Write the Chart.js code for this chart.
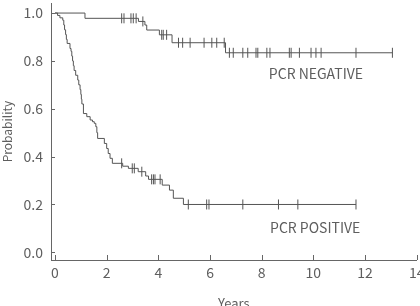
<!DOCTYPE html>
<html>
<head>
<meta charset="utf-8">
<script src="https://cdn.jsdelivr.net/npm/chart.js@4/dist/chart.umd.min.js"></script>
<style>
body { margin: 0; background: #fff; }
#wrap { width: 420px; height: 306px; }
</style>
</head>
<body>
<div id="wrap"><canvas id="km"></canvas></div>
<script>
// Kaplan-Meier curves.
// each time is where the curve steps down to the survival value at the same index
const negTimes = [0, 1.16, 3.23, 3.48, 3.55, 4.04, 4.53, 6.60, 13.06];
const negSurv  = [1.0, 0.978, 0.965, 0.950, 0.929, 0.909, 0.876, 0.834, 0.834];
const negCensored = [2.58, 2.67, 2.94, 3.03, 3.14, 3.40, 4.13, 4.19, 4.32, 4.78, 4.94, 5.23, 5.77,
    6.07, 6.26, 6.55, 6.75, 6.90, 7.27, 7.46, 7.78, 7.85, 8.20, 8.32, 9.07, 9.14, 9.46, 9.91,
    10.10, 10.30, 11.65, 13.06];

const posTimes = [0, 0.10, 0.19, 0.30, 0.34, 0.37, 0.41, 0.44, 0.47, 0.58, 0.62, 0.65, 0.68, 0.71,
    0.74, 0.80, 0.88, 0.92, 0.97, 1.00, 1.02, 1.04, 1.10, 1.23, 1.36, 1.45, 1.52, 1.58, 1.62, 1.65,
    1.91, 2.00, 2.06, 2.13, 2.22, 2.62, 2.84, 3.22, 3.51, 3.62, 4.15, 4.43, 4.58, 4.97, 11.65];
const posSurv = [1.0, 0.99, 0.98, 0.97, 0.95, 0.93, 0.91, 0.89, 0.873, 0.852, 0.84, 0.82, 0.80, 0.78,
    0.76, 0.74, 0.72, 0.70, 0.68, 0.66, 0.64, 0.62, 0.58, 0.567, 0.553, 0.546, 0.539, 0.525, 0.50, 0.476,
    0.455, 0.434, 0.413, 0.393, 0.372, 0.36, 0.351, 0.337, 0.319, 0.305, 0.281, 0.26, 0.226, 0.20, 0.20];
const posCensored = [2.58, 2.99, 3.07, 3.36, 3.74, 3.81, 3.87, 4.07, 5.16, 5.87, 5.96, 7.27, 8.65, 9.40, 11.65];

const xTicks = [0, 2, 4, 6, 8, 10, 12, 14];
const xTickLabels = ['0', '2', '4', '6', '8', '10', '12', '14'];
const yTicks = [0, 0.2, 0.4, 0.6, 0.8, 1.0];
const yTickLabels = ['0.0', '0.2', '0.4', '0.6', '0.8', '1.0'];

const groupNames = ['PCR NEGATIVE', 'PCR POSITIVE'];

const FONT = '"Noto Sans CJK JP", "Noto Sans", sans-serif';
const INK = '#555';
const TXT = '#5e5e5e';

// survival level of a curve at time t (for placing the censor marks on it)
function levelAt(times, surv, t) {
    let s = surv[0];
    for (let i = 0; i < times.length; i++) {
        if (times[i] <= t) s = surv[i];
    }
    return s;
}

function curve(times, surv) {
    return times.map((t, i) => ({x: t, y: surv[i]}));
}

function marks(times, surv, cens) {
    return cens.map(t => ({x: t, y: levelAt(times, surv, t)}));
}

// 'before' in chart.js = go across first, then drop (KM style)
const lineStyle = {
    borderColor: INK,
    borderWidth: 1,
    pointRadius: 0,
    stepped: 'before',
    fill: false
};
const markStyle = {
    showLine: false,
    pointStyle: 'line',
    rotation: 90,
    pointRadius: 5,
    pointBorderWidth: 1,
    pointBorderColor: INK,
    borderColor: INK
};

// inward tick marks, x tick labels (last one hangs off the edge) + the two group labels
const extras = {
    id: 'extras',
    afterDraw(chart) {
        const ctx = chart.ctx;
        const xs = chart.scales.x, ys = chart.scales.y;
        ctx.save();
        ctx.strokeStyle = '#666';
        ctx.lineWidth = 1;
        ctx.beginPath();
        xs.ticks.forEach(tk => {
            const px = Math.round(xs.getPixelForValue(tk.value)) + 0.5;
            ctx.moveTo(px, ys.bottom);
            ctx.lineTo(px, ys.bottom - 5);
        });
        ys.ticks.forEach(tk => {
            const py = Math.round(ys.getPixelForValue(tk.value)) + 0.5;
            ctx.moveTo(xs.left, py);
            ctx.lineTo(xs.left + 4, py);
        });
        ctx.stroke();

        ctx.fillStyle = TXT;
        ctx.font = '14px ' + FONT;
        ctx.textAlign = 'center';
        ctx.textBaseline = 'middle';
        xs.ticks.forEach((tk, i) => {
            ctx.fillText(xTickLabels[i], xs.getPixelForValue(tk.value), ys.bottom + 13);
        });
        ctx.fillText(groupNames[0], xs.getPixelForValue(10.1), ys.getPixelForValue(0.748));
        ctx.fillText(groupNames[1], xs.getPixelForValue(10.07), ys.getPixelForValue(0.104));
        ctx.restore();
    }
};

new Chart(document.getElementById('km'), {
    type: 'line',
    data: {
        datasets: [
            Object.assign({data: curve(negTimes, negSurv)}, lineStyle),
            Object.assign({data: curve(posTimes, posSurv)}, lineStyle),
            Object.assign({data: marks(negTimes, negSurv, negCensored)}, markStyle),
            Object.assign({data: marks(posTimes, posSurv, posCensored)}, markStyle)
        ]
    },
    options: {
        responsive: true,
        maintainAspectRatio: false,
        animation: false,
        layout: { autoPadding: false, padding: { left: 0, right: 3.3, top: 3, bottom: 0 } },
        plugins: {
            legend: { display: false },
            tooltip: { enabled: false }
        },
        scales: {
            x: {
                type: 'linear',
                min: -0.155,
                max: 14,
                afterBuildTicks: s => { s.ticks = xTicks.map(v => ({value: v})); },
                afterFit: s => { s.height = 46; s.paddingLeft = 0; s.paddingRight = 0; },
                grid: { display: false, drawTicks: false },
                border: { display: true, color: '#666', width: 1 },
                ticks: { display: false },
                title: {
                    display: true, text: 'Years', color: TXT,
                    font: { family: FONT, size: 13, lineHeight: 1 },
                    padding: { top: 0, bottom: -4 }
                }
            },
            y: {
                min: -0.032,
                max: 1.042,
                afterBuildTicks: s => { s.ticks = yTicks.map(v => ({value: v})); },
                afterFit: s => { s.width = 51; s.paddingTop = 0; s.paddingBottom = 0; },
                grid: { display: false, drawTicks: false },
                border: { display: true, color: '#666', width: 1 },
                ticks: {
                    color: TXT, padding: 8, font: { family: FONT, size: 14 },
                    callback: (v, i) => yTickLabels[i]
                },
                title: {
                    display: true, text: 'Probability', color: TXT,
                    font: { family: FONT, size: 12 },
                    padding: 0
                }
            }
        }
    },
    plugins: [extras]
});
</script>
</body>
</html>
